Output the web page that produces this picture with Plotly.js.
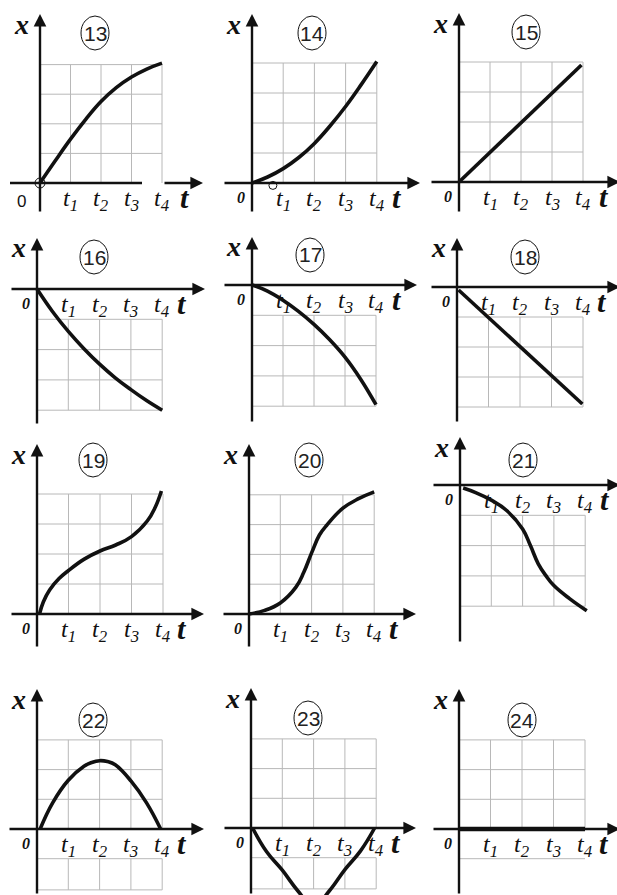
<!DOCTYPE html>
<html>
<head>
<meta charset="utf-8">
<script src="https://cdn.plot.ly/plotly-3.0.1.min.js"></script>
<style>body{margin:0;background:#fff}</style>
</head>
<body>
<div id="plotArea" style="width:617px;height:895px"></div>
<script>
// panel numbers and tick subscripts
var panelNames = ["13", "14", "15", "16", "17", "18", "19", "20", "21", "22", "23", "24"];
var tickNames = ["1", "2", "3", "4"];

// curves, t in grid steps (t1 = 1 ... t4 = 4), x in grid steps
var t13 = [0, 0.5, 1, 1.5, 2, 2.5, 3, 3.5, 4];
var x13 = [0, 0.75, 1.48, 2.15, 2.75, 3.22, 3.58, 3.85, 4.05];
var t14 = [0, 0.5, 1, 1.5, 2, 2.5, 3, 3.5, 4];
var x14 = [0, 0.2, 0.48, 0.85, 1.32, 1.9, 2.55, 3.28, 4.05];
var t15 = [0, 3.95];
var x15 = [0, 3.9];
var t16 = [0, 0.5, 1, 1.5, 2, 2.5, 3, 3.5, 4];
var x16 = [0, -0.75, -1.4, -1.97, -2.48, -2.93, -3.32, -3.68, -4.0];
var t17 = [0, 0.5, 1, 1.5, 2, 2.5, 3, 3.5, 4];
var x17 = [0, -0.2, -0.5, -0.87, -1.3, -1.8, -2.38, -3.1, -3.95];
var t18 = [0.05, 3.98];
var x18 = [-0.1, -3.9];
var t19 = [0.08, 0.2, 0.4, 0.7, 1, 1.5, 2, 2.5, 3, 3.5, 3.75, 3.95];
var x19 = [0, 0.4, 0.8, 1.18, 1.45, 1.83, 2.1, 2.3, 2.58, 3.1, 3.55, 4.1];
var t20 = [0, 0.5, 1, 1.5, 1.75, 2, 2.25, 2.5, 3, 3.5, 4];
var x20 = [0, 0.12, 0.37, 0.9, 1.4, 2.05, 2.65, 3.0, 3.55, 3.87, 4.1];
var t21 = [0.1, 0.5, 1, 1.5, 2, 2.25, 2.5, 2.75, 3, 3.5, 4.05];
var x21 = [-0.1, -0.25, -0.5, -0.85, -1.45, -2.0, -2.6, -3.0, -3.32, -3.75, -4.15];
var t22 = [0.1, 0.5, 1, 1.5, 1.75, 2, 2.25, 2.5, 3, 3.5, 3.95];
var x22 = [0, 0.88, 1.64, 2.11, 2.24, 2.3, 2.27, 2.16, 1.62, 0.88, 0];
var t23 = [0.05, 0.5, 1, 1.5, 2, 2.5, 3, 3.5, 3.95];
var x23 = [0, -0.8, -1.42, -2.12, -2.65, -2.12, -1.4, -0.77, 0];
var t24 = [0, 4];
var x24 = [0, 0];

// little open rings drawn in panels 13 and 14
var ringT13 = [0], ringX13 = [0];
var ringT14 = [0.67], ringX14 = [-0.08];

var curvesT = [t13, t14, t15, t16, t17, t18, t19, t20, t21, t22, t23, t24];
var curvesX = [x13, x14, x15, x16, x17, x18, x19, x20, x21, x22, x23, x24];

var W = 617, H = 895;
var ink = "#111";
var gridCol = "#b8b8b8";
var serif = "Liberation Serif";
var sans = "Liberation Sans";

// page layout (pixels): origin, grid step, axis extents, badge centre
var geom = [
  {ox: 40, oy: 183, ux: 30.5, uy: 29.6, top: 14, bot: 213, left: 10, right: 203, grid: "up", cx: 95, cy: 33},
  {ox: 252, oy: 183, ux: 31.2, uy: 30, top: 14, bot: 213, left: 223, right: 420, grid: "up", cx: 312, cy: 33},
  {ox: 459, oy: 182, ux: 31, uy: 30, top: 13, bot: 213, left: 430, right: 620, grid: "up", cx: 526, cy: 32},
  {ox: 37, oy: 289, ux: 31.3, uy: 30.3, top: 238, bot: 425, left: 10, right: 205, grid: "down", cx: 94, cy: 257},
  {ox: 252, oy: 285, ux: 31, uy: 30.3, top: 237, bot: 423, left: 223, right: 417, grid: "down", cx: 310, cy: 255},
  {ox: 457, oy: 287, ux: 31.5, uy: 30, top: 238, bot: 423, left: 430, right: 620, grid: "down", cx: 525, cy: 257},
  {ox: 37, oy: 614, ux: 31.5, uy: 30, top: 444, bot: 648, left: 10, right: 204, grid: "up", cx: 93, cy: 460},
  {ox: 249, oy: 614, ux: 31.3, uy: 29.8, top: 444, bot: 648, left: 222, right: 416, grid: "up", cx: 309, cy: 460},
  {ox: 460, oy: 485, ux: 31.3, uy: 30.3, top: 437, bot: 643, left: 432, right: 620, grid: "down", cx: 523, cy: 460},
  {ox: 37, oy: 829, ux: 31.3, uy: 29.7, top: 689, bot: 895, left: 8, right: 204, grid: "mix2", cx: 93, cy: 720},
  {ox: 251, oy: 828, ux: 31.3, uy: 29.7, top: 688, bot: 895, left: 223, right: 416, grid: "mix2", cx: 308, cy: 718},
  {ox: 459, oy: 829, ux: 31.5, uy: 29.7, top: 689, bot: 895, left: 432, right: 620, grid: "mix1", cx: 522, cy: 720}
];
var colBox = [[0, 212], [212, 425], [425, 617]];
var rowBox = [[0, 222], [222, 435], [435, 660], [660, 895]];

var data = [];
var shapes = [];
var annotations = [];
var layout = {
  width: W, height: H,
  margin: {l: 0, r: 0, t: 0, b: 0},
  paper_bgcolor: "#fff", plot_bgcolor: "rgba(0,0,0,0)",
  showlegend: false
};

geom.forEach(function (g, i) {
  var k = i + 1;
  var sfx = k === 1 ? "" : String(k);
  var xa = "x" + sfx, ya = "y" + sfx;
  var bx = colBox[i % 3], by = rowBox[Math.floor(i / 3)];
  function tp(px) { return (px - g.ox) / g.ux; }
  function xp(py) { return (g.oy - py) / g.uy; }

  layout["xaxis" + sfx] = {domain: [bx[0] / W, bx[1] / W], range: [tp(bx[0]), tp(bx[1])],
    visible: false, fixedrange: true, anchor: ya};
  layout["yaxis" + sfx] = {domain: [1 - by[1] / H, 1 - by[0] / H], range: [xp(by[1]), xp(by[0])],
    visible: false, fixedrange: true, anchor: xa};

  function line(a0, b0, a1, b1) {
    shapes.push({type: "line", xref: xa, yref: ya, x0: a0, y0: b0, x1: a1, y1: b1,
      line: {color: gridCol, width: 1}, layer: "below"});
  }
  var n;
  if (g.grid === "up") {
    for (n = 1; n <= 4; n++) { line(0, n, 4, n); line(n, 0, n, 4); }
  } else if (g.grid === "down") {
    for (n = 1; n <= 4; n++) { line(0, -n, 4, -n); line(n, -1, n, -4); }
  } else {
    for (n = 1; n <= 3; n++) line(0, n, 4, n);
    for (n = 1; n <= 4; n++) line(n, 0, n, 3);
    line(0, -1, 4, -1);
    if (g.grid === "mix2") {
      line(0, -2.05, 4, -2.05);
      for (n = 1; n <= 4; n++) line(n, -1, n, -2.05);
    }
  }

  // axes with arrow heads
  var arrow = {xref: xa, yref: ya, axref: xa, ayref: ya, text: "", showarrow: true,
    arrowhead: 2, arrowsize: 1.05, arrowwidth: 2.4, arrowcolor: ink};
  annotations.push(Object.assign({}, arrow, {x: 0, y: xp(g.top), ax: 0, ay: xp(g.bot)}));
  if (k === 1) {
    shapes.push({type: "line", xref: xa, yref: ya, x0: tp(g.left), y0: 0, x1: tp(142), y1: 0,
      line: {color: ink, width: 2.4}});
    annotations.push(Object.assign({}, arrow, {x: tp(g.right), y: 0, ax: tp(163), ay: 0}));
  } else {
    annotations.push(Object.assign({}, arrow, {x: tp(g.right), y: 0, ax: tp(g.left), ay: 0}));
  }

  // curve
  data.push({x: curvesT[i], y: curvesX[i], xaxis: xa, yaxis: ya, type: "scatter", mode: "lines",
    line: {shape: "spline", smoothing: 1.2, width: k === 12 ? 4.5 : 3.6, color: ink}, hoverinfo: "skip"});

  // labels
  annotations.push({xref: xa, yref: ya, x: tp(g.ox - 19), y: xp(g.top + 10), showarrow: false,
    text: "<b><i>x</i></b>", font: {family: serif, size: 28, color: ink}});
  annotations.push({xref: xa, yref: ya, x: tp(g.ox + 145), y: 0, yshift: -14, showarrow: false,
    text: "<b><i>t</i></b>", font: {family: serif, size: 30, color: ink}});
  tickNames.forEach(function (s, j) {
    annotations.push({xref: xa, yref: ya, x: j + 1, y: 0, yshift: -17, showarrow: false,
      text: "<i>t</i><sub><i>" + s + "</i></sub>", font: {family: serif, size: 24, color: ink}});
  });
  if (k === 1) {
    annotations.push({xref: xa, yref: ya, x: 0, y: 0, xshift: -19, yshift: -18, showarrow: false,
      text: "0", font: {family: sans, size: 17, color: ink}});
  } else {
    annotations.push({xref: xa, yref: ya, x: 0, y: 0, xshift: -11, yshift: -14, showarrow: false,
      text: "<b><i>0</i></b>", font: {family: serif, size: 16, color: ink}});
  }

  // numbered badge
  shapes.push({type: "circle", xref: xa, yref: ya, xsizemode: "pixel", ysizemode: "pixel",
    xanchor: tp(g.cx), yanchor: xp(g.cy), x0: -14, x1: 14, y0: -17, y1: 17,
    line: {color: ink, width: 1}});
  annotations.push({xref: xa, yref: ya, x: tp(g.cx), y: xp(g.cy), showarrow: false,
    text: panelNames[i], font: {family: sans, size: 21, color: "#222"}});
});

data.push({x: ringT13, y: ringX13, xaxis: "x", yaxis: "y", type: "scatter", mode: "markers",
  marker: {symbol: "circle-open", size: 10, color: ink, line: {width: 1}}, hoverinfo: "skip"});
data.push({x: ringT14, y: ringX14, xaxis: "x2", yaxis: "y2", type: "scatter", mode: "markers",
  marker: {symbol: "circle-open", size: 8, color: ink, line: {width: 1}}, hoverinfo: "skip"});

layout.shapes = shapes;
layout.annotations = annotations;

Plotly.newPlot("plotArea", data, layout, {displayModeBar: false});
</script>
</body>
</html>
